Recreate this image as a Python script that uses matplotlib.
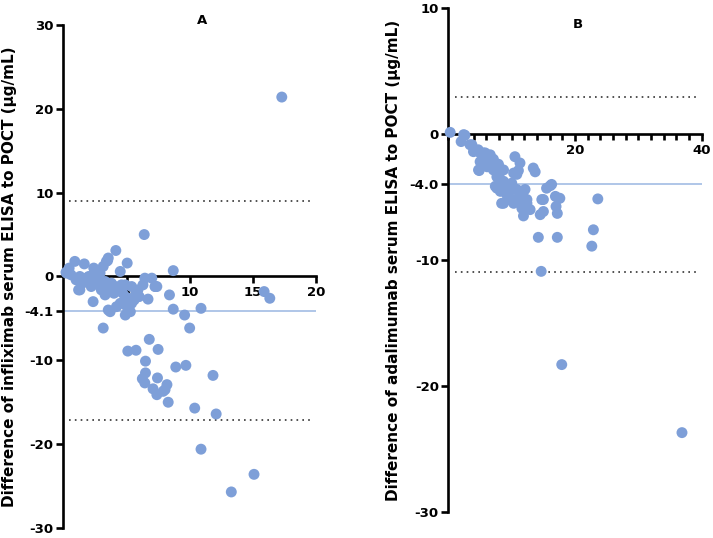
import numpy as np
import matplotlib.pyplot as plt
from matplotlib.ticker import MultipleLocator, FixedLocator

# Panel A - infliximab (mean of methods vs difference)
ifx_x = [0.25, 0.4, 0.45, 0.9, 1.65, 1.3, 2.0, 2.5, 2.9, 3.4, 3.55, 4.15, 5.05, 4.5,
         1.2, 1.3, 2.35, 2.2, 3.0, 3.55, 4.1, 3.55, 4.2, 4.9, 5.1, 5.7, 6.3, 6.7, 7.25,
         7.0, 6.45, 4.9, 5.4, 5.9, 7.4, 4.2, 4.7, 4.5, 5.3, 8.7, 8.4, 8.7, 9.6, 10.0,
         10.9, 3.15, 3.7, 5.4, 4.9, 6.8, 5.1, 5.75, 7.5, 6.5, 8.9, 9.7, 6.5, 6.25, 6.45,
         7.45, 8.2, 8.05, 7.1, 7.4, 7.9, 8.3, 10.4, 11.85, 12.1, 10.9, 13.3, 15.1, 15.9,
         16.35, 17.3, 6.4, 3.5, 2.4, 3.15, 0.2, 0.6, 1.0, 1.5, 1.8, 2.6, 2.8, 3.3, 3.8,
         4.0, 3.3, 4.6, 5.0, 5.6, 6.0, 7.3, 2.4]
ifx_y = [0.4, 0.6, 1.0, 1.8, 1.5, 0.0, 0.0, 0.6, 0.4, 1.8, 2.2, 3.1, 1.6, 0.6,
         -1.6, -1.6, -3.0, -1.2, -1.6, -1.6, -1.2, -4.0, -3.6, -3.4, -4.2, -2.2, -1.0,
         -2.7, -1.2, -0.2, -0.2, -1.0, -1.2, -1.6, -1.2, -1.4, -2.0, -3.2, -4.2, 0.7,
         -2.2, -3.9, -4.6, -6.15, -3.8, -6.15, -4.2, -3.2, -4.6, -7.5, -8.9, -8.8,
         -8.7, -10.1, -10.8, -10.6, -11.5, -12.2, -12.7, -12.1, -12.9, -13.5, -13.4,
         -14.1, -13.7, -15.0, -15.7, -11.8, -16.4, -20.6, -25.7, -23.6, -1.8, -2.6,
         21.4, 5.0, 1.9, 1.0, 1.2, 0.5, 0.2, -0.4, -0.8, -0.2, -0.5, -1.0, -0.6, -0.8,
         -2.0, -2.2, -1.0, -2.5, -2.8, -2.4, -1.2, -0.6]
ifx_mean = -4.1
ifx_loa = [8.95, -17.15]

# Panel B - adalimumab
ada_x = [0.27, 2.0, 2.6, 2.4, 3.4, 3.7, 3.95, 4.7, 5.0, 5.8, 6.1, 6.6, 7.1, 7.9, 4.85,
         5.0, 6.1, 4.75, 7.65, 8.2, 7.1, 7.9, 8.4, 8.95, 8.2, 9.2, 9.5, 10.3, 10.5, 11.3,
         11.05, 10.8, 10.0, 10.8, 11.85, 12.4, 11.6, 13.4, 13.7, 15.5, 16.3, 15.0, 16.9,
         5.5, 6.1, 7.9, 8.7, 10.3, 7.65, 8.7, 7.65, 8.95, 10.5, 8.7, 9.75, 10.8, 11.3,
         12.1, 11.6, 11.85, 12.9, 12.4, 16.1, 14.75, 15.0, 14.5, 17.4, 17.0, 17.2, 17.6,
         14.2, 17.2, 23.6, 22.9, 22.65, 14.65, 17.9, 36.9, 8.4, 7.4]
ada_y = [0.13, -0.6, -0.1, -0.05, -0.85, -0.85, -1.4, -1.25, -1.5, -1.5, -1.65, -1.65,
         -2.0, -2.4, -2.9, -2.2, -2.3, -2.85, -2.6, -3.0, -2.85, -3.5, -4.0, -4.3, -4.55,
         -4.8, -5.2, -5.5, -1.8, -2.3, -2.9, -3.2, -3.9, -4.4, -4.55, -5.2, -5.35, -2.7,
         -3.0, -4.3, -4.0, -5.2, -4.95, -1.5, -2.6, -2.6, -2.85, -3.1, -3.4, -3.75, -4.3,
         -4.4, -4.4, -5.5, -5.1, -5.2, -4.7, -4.4, -5.9, -6.5, -6.0, -5.5, -4.1, -5.2,
         -6.15, -6.4, -5.1, -5.75, -6.3, -5.1, -8.2, -8.2, -5.15, -7.6, -8.9, -10.9,
         -18.3, -23.7, -5.5, -4.15]
ada_mean = -4.0
ada_loa = [2.96, -10.96]

dot_color = '#7E9FD8'
mean_color = '#A9C1E6'
lw = 1.9

fig = plt.figure(figsize=(7.13, 5.38), dpi=100)
axA = fig.add_axes([0.089, 0.0186, 0.354, 0.935])
axB = fig.add_axes([0.629, 0.0483, 0.355, 0.9368])


def style(ax):
    for s in ['top', 'right']:
        ax.spines[s].set_visible(False)
    ax.spines['left'].set_linewidth(lw)
    ax.spines['bottom'].set_linewidth(lw)
    ax.spines['bottom'].set_position(('data', 0))
    ax.tick_params(axis='both', which='major', direction='out', width=lw,
                   length=5, labelsize=9.5, pad=2)
    ax.tick_params(axis='x', which='minor', direction='out', width=lw, length=4.5)
    for lab in ax.get_xticklabels() + ax.get_yticklabels():
        lab.set_fontweight('bold')


# Panel A
axA.hlines(ifx_loa, 0.4, 19.8, colors='#333333', linestyles=(0, (1, 2.5)), lw=1.2)
axA.hlines(ifx_mean, 0, 20, colors=mean_color, lw=1.3)
axA.scatter(ifx_x, ifx_y, s=62, color=dot_color, edgecolors='none', clip_on=False, zorder=3)
axA.set_xlim(0, 20)
axA.set_ylim(-30, 30)
axA.xaxis.set_major_locator(FixedLocator([5, 10, 15, 20]))
axA.yaxis.set_major_locator(FixedLocator([30, 20, 10, 0, -4.1, -10, -20, -30]))
axA.set_yticklabels(['30', '20', '10', '0', '-4.1', '-10', '-20', '-30'])
style(axA)
axA.set_ylabel('Difference of infliximab serum ELISA to POCT (µg/mL)',
               fontsize=11, fontweight='bold')
axA.yaxis.set_label_coords(-0.186, 0.5)
axA.text(11, 30.5, 'A', ha='center', va='center', fontsize=9.5, fontweight='bold')

# Panel B
axB.hlines(ada_loa, 1, 39.5, colors='#333333', linestyles=(0, (1, 2.5)), lw=1.2)
axB.hlines(ada_mean, 0, 40, colors=mean_color, lw=1.3)
axB.scatter(ada_x, ada_y, s=62, color=dot_color, edgecolors='none', clip_on=False, zorder=3)
axB.set_xlim(0, 40)
axB.set_ylim(-30, 10)
axB.xaxis.set_major_locator(FixedLocator([20, 40]))
axB.xaxis.set_minor_locator(MultipleLocator(2))
axB.yaxis.set_major_locator(FixedLocator([10, 0, -4.0, -10, -20, -30]))
axB.set_yticklabels(['10', '0', '-4.0', '-10', '-20', '-30'])
style(axB)
axB.set_ylabel('Difference of adalimumab serum ELISA to POCT (µg/mL)',
               fontsize=11, fontweight='bold')
axB.yaxis.set_label_coords(-0.187, 0.5)
axB.text(20.5, 8.7, 'B', ha='center', va='center', fontsize=9.5, fontweight='bold')

plt.savefig('out.png', dpi=100)
